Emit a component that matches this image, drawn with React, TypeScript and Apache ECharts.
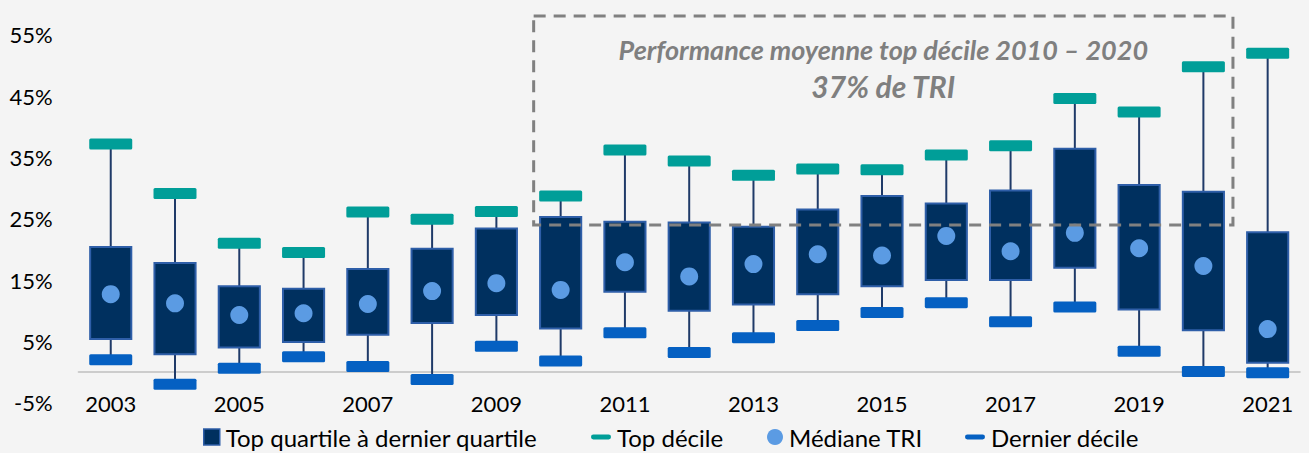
import React, { useEffect, useRef } from 'react';
import * as echarts from 'echarts';

const years = ['2003', '2004', '2005', '2006', '2007', '2008', '2009', '2010', '2011', '2012', '2013', '2014', '2015', '2016', '2017', '2018', '2019', '2020', '2021'];
const topDecile = [37.2, 29.1, 21.0, 19.5, 26.1, 24.9, 26.2, 28.7, 36.2, 34.4, 32.1, 33.1, 33.0, 35.4, 36.9, 44.6, 42.4, 49.8, 52.0];
const topQuartile = [20.4, 17.8, 14.0, 13.6, 16.8, 20.1, 23.4, 25.3, 24.5, 24.4, 23.7, 26.5, 28.7, 27.5, 29.6, 36.4, 30.5, 29.4, 22.8];
const medianTRI = [12.7, 11.2, 9.3, 9.6, 11.1, 13.2, 14.5, 13.4, 17.9, 15.6, 17.6, 19.2, 19.0, 22.2, 19.7, 22.7, 20.2, 17.3, 7.0];
const bottomQuartile = [5.4, 2.9, 4.0, 4.9, 6.1, 8.0, 9.3, 7.1, 13.1, 10.0, 11.0, 12.7, 14.0, 15.0, 15.0, 17.0, 10.2, 6.8, 1.5];
const bottomDecile = [2.0, -2.0, 0.6, 2.5, 0.9, -1.2, 4.2, 1.8, 6.4, 3.2, 5.6, 7.6, 9.7, 11.3, 8.2, 10.6, 3.4, 0.1, -0.1];

const yMin = -5;
const yMax = 55;
const yInterval = 10;

const seriesNames = ['Top quartile à dernier quartile', 'Top décile', 'Médiane TRI', 'Dernier décile'];

const annotationTitle = 'Performance moyenne top décile 2010 – 2020';
const annotationValue = '37% de TRI';
const annotationFrom = '2010';
const annotationTo = '2020';
const annotationLevel = 24;

const FONT = 'Lato, "Open Sans", sans-serif';
const NAVY = '#00305f';
const BOX_BORDER = '#2e5ea8';
const WHISKER = '#1f3a68';
const TEAL = '#009e98';
const BLUE = '#0560c2';
const LIGHT = '#5b9be3';
const GRAY = '#808080';

const DECILE_SYMBOL = 'path://M1.5,0h40a1.5,1.5 0 0 1 1.5,1.5v8a1.5,1.5 0 0 1 -1.5,1.5h-40a1.5,1.5 0 0 1 -1.5,-1.5v-8a1.5,1.5 0 0 1 1.5,-1.5z';
const LEGEND_DASH = 'path://M2,0h16a2,2 0 0 1 0,5h-16a2,2 0 0 1 0,-5z';

export default function App() {
  const ref = useRef<HTMLDivElement>(null);

  useEffect(() => {
    if (!ref.current) return;
    const chart = echarts.init(ref.current, undefined, { renderer: 'svg' });

    const boxData = years.map((_, i) => [i, bottomQuartile[i], topQuartile[i], bottomDecile[i], topDecile[i]]);

    const legendBase = {
      top: 420,
      orient: 'horizontal',
      itemGap: 0,
      textStyle: { fontSize: 24, fontFamily: FONT, color: '#000', lineHeight: 24, padding: [0, 0, 0, 1] },
    };

    chart.setOption({
      animation: false,
      backgroundColor: '#f4f4f4',
      grid: { left: 78.6, right: 9.2, top: 34.8, bottom: 50.3, containLabel: false },
      legend: [
        { ...legendBase, left: 198, itemWidth: 16, itemHeight: 16, data: [{ name: seriesNames[0], icon: 'rect', itemStyle: { color: NAVY, borderColor: BOX_BORDER, borderWidth: 1.5 } }] },
        { ...legendBase, left: 586, itemWidth: 20, itemHeight: 16, data: [{ name: seriesNames[1], icon: LEGEND_DASH }] },
        { ...legendBase, left: 762, itemWidth: 16, itemHeight: 16, data: [{ name: seriesNames[2], icon: 'circle' }] },
        { ...legendBase, left: 960, itemWidth: 20, itemHeight: 16, data: [{ name: seriesNames[3], icon: LEGEND_DASH }] },
      ],
      xAxis: {
        type: 'category',
        data: years,
        axisLine: { show: true, onZero: true, lineStyle: { color: '#cccccc', width: 2 } },
        axisTick: { show: false },
        axisLabel: { interval: 1, margin: -10, fontSize: 22, fontFamily: FONT, color: '#000' },
        splitLine: { show: false },
      },
      yAxis: {
        type: 'value',
        min: yMin,
        max: yMax,
        interval: yInterval,
        axisLine: { show: false },
        axisTick: { show: false },
        splitLine: { show: false },
        axisLabel: { margin: 26, fontSize: 22, fontFamily: FONT, color: '#000', formatter: (v: number) => `${v}%` },
      },
      series: [
        {
          name: seriesNames[0],
          type: 'custom',
          data: boxData,
          encode: { x: 0, y: [1, 2, 3, 4] },
          itemStyle: { color: NAVY, borderColor: BOX_BORDER },
          z: 2,
          renderItem: (params: any, api: any) => {
            const i = api.value(0);
            const q1 = api.value(1);
            const q3 = api.value(2);
            const lo = api.value(3);
            const hi = api.value(4);
            const band = api.size([1, 0])[0];
            const w = band * 0.64;
            const pHi = api.coord([i, hi]);
            const pLo = api.coord([i, lo]);
            const pQ3 = api.coord([i, q3]);
            const pQ1 = api.coord([i, q1]);
            return {
              type: 'group',
              children: [
                { type: 'line', shape: { x1: pHi[0], y1: pHi[1], x2: pLo[0], y2: pLo[1] }, style: { stroke: WHISKER, lineWidth: 2 } },
                { type: 'rect', shape: { x: pQ3[0] - w / 2, y: pQ3[1], width: w, height: pQ1[1] - pQ3[1] }, style: { fill: NAVY, stroke: BOX_BORDER, lineWidth: 2 } },
              ],
            };
          },
        },
        {
          name: seriesNames[1],
          type: 'scatter',
          data: topDecile,
          symbol: DECILE_SYMBOL,
          symbolSize: [43, 11],
          itemStyle: { color: TEAL, opacity: 1 },
          z: 3,
        },
        {
          name: seriesNames[2],
          type: 'scatter',
          data: medianTRI,
          symbol: 'circle',
          symbolSize: 18,
          itemStyle: { color: LIGHT, opacity: 1 },
          z: 4,
        },
        {
          name: seriesNames[3],
          type: 'scatter',
          data: bottomDecile,
          symbol: DECILE_SYMBOL,
          symbolSize: [43, 11],
          itemStyle: { color: BLUE, opacity: 1 },
          z: 3,
        },
      ],
    });

    const i0 = years.indexOf(annotationFrom);
    const i1 = years.indexOf(annotationTo);
    const x0 = chart.convertToPixel({ xAxisIndex: 0 }, i0) as number;
    const x1 = chart.convertToPixel({ xAxisIndex: 0 }, i1) as number;
    const band = (chart.convertToPixel({ xAxisIndex: 0 }, 1) as number) - (chart.convertToPixel({ xAxisIndex: 0 }, 0) as number);
    const yLevel = chart.convertToPixel({ yAxisIndex: 0 }, annotationLevel) as number;
    const left = x0 - band * 0.42;
    const right = x1 + band * 0.46;
    const top = 16;
    const cx = (left + right) / 2;

    chart.setOption({
      graphic: [
        {
          type: 'rect',
          z: 100,
          shape: { x: left, y: top, width: right - left, height: yLevel - top },
          style: { fill: 'transparent', stroke: GRAY, lineWidth: 3, lineDash: [12, 8] },
          silent: true,
        },
        {
          type: 'text',
          z: 100,
          x: cx,
          y: 49,
          style: { text: annotationTitle, fill: '#7f7f7f', font: `italic bold 27px ${FONT}`, textAlign: 'center', textVerticalAlign: 'middle' },
        },
        {
          type: 'text',
          z: 100,
          x: cx,
          y: 86,
          style: { text: annotationValue, fill: '#7f7f7f', font: `italic bold 30px ${FONT}`, textAlign: 'center', textVerticalAlign: 'middle' },
        },
      ],
    });

    return () => chart.dispose();
  }, []);

  return <div ref={ref} style={{ position: 'fixed', left: 0, top: 0, width: 1309, height: 453 }} />;
}
